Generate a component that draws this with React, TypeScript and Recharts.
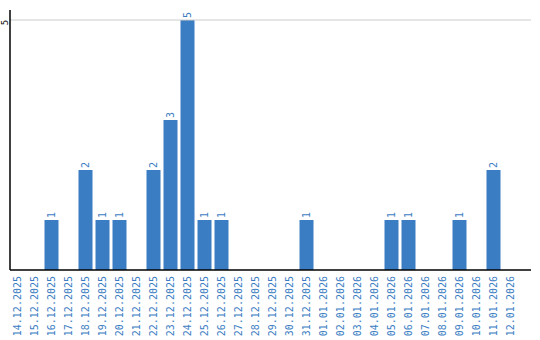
import React from 'react';
import { BarChart, Bar, XAxis, YAxis, ReferenceLine, LabelList } from 'recharts';

const dates = [
  '14.12.2025', '15.12.2025', '16.12.2025', '17.12.2025', '18.12.2025',
  '19.12.2025', '20.12.2025', '21.12.2025', '22.12.2025', '23.12.2025',
  '24.12.2025', '25.12.2025', '26.12.2025', '27.12.2025', '28.12.2025',
  '29.12.2025', '30.12.2025', '31.12.2025', '01.01.2026', '02.01.2026',
  '03.01.2026', '04.01.2026', '05.01.2026', '06.01.2026', '07.01.2026',
  '08.01.2026', '09.01.2026', '10.01.2026', '11.01.2026', '12.01.2026',
];
const counts = [
  0, 0, 1, 0, 2, 1, 1, 0, 2, 3,
  5, 1, 1, 0, 0, 0, 0, 1, 0, 0,
  0, 0, 1, 1, 0, 0, 1, 0, 2, 0,
];
const yTicks = [5];

const BLUE = '#3b7dc3';
const FONT = '"DejaVu Sans Mono", monospace';

const data = dates.map((d, i) => ({ date: d, count: counts[i] }));

function DateTick({ x, y, payload }: any) {
  const ty = y - 2;
  return (
    <text
      x={x}
      y={ty}
      transform={`rotate(-90 ${x} ${ty})`}
      textAnchor="end"
      dominantBaseline="central"
      fill={BLUE}
      fontSize={10}
      fontFamily={FONT}
    >
      {payload.value}
    </text>
  );
}

function CountTick({ y, payload }: any) {
  const ty = y + 2.5;
  return (
    <text
      x={4.5}
      y={ty}
      transform={`rotate(-90 4.5 ${ty})`}
      textAnchor="middle"
      dominantBaseline="central"
      fill="#000"
      fontSize={9}
      fontFamily={FONT}
    >
      {payload.value}
    </text>
  );
}

function BarLabel({ x, y, width, value }: any) {
  if (!value) return null;
  const cx = x + width / 2;
  const ty = y - 2;
  return (
    <text
      x={cx}
      y={ty}
      transform={`rotate(-90 ${cx} ${ty})`}
      textAnchor="start"
      dominantBaseline="central"
      fill={BLUE}
      fontSize={10}
      fontFamily={FONT}
    >
      {value}
    </text>
  );
}

export default function App() {
  return (
    <div style={{ position: 'absolute', left: 0, top: 0, background: '#fff' }}>
      <BarChart
        width={540}
        height={340}
        data={data}
        margin={{ top: 10, right: 9, left: 0, bottom: 0 }}
        barSize={14}
      >
        {yTicks.map((t) => (
          <ReferenceLine key={t} y={t} stroke="#cccccc" />
        ))}
        <XAxis
          dataKey="date"
          interval={0}
          height={70}
          padding={{ left: -1.5, right: 12.5 }}
          tick={<DateTick />}
          tickLine={false}
          axisLine={{ stroke: '#000', strokeWidth: 1.5 }}
        />
        <YAxis
          width={10}
          domain={[0, 5.2]}
          ticks={yTicks}
          tick={<CountTick />}
          tickLine={false}
          axisLine={{ stroke: '#000', strokeWidth: 1.5 }}
        />
        <Bar dataKey="count" fill={BLUE} isAnimationActive={false}>
          <LabelList dataKey="count" content={<BarLabel />} />
        </Bar>
      </BarChart>
    </div>
  );
}
